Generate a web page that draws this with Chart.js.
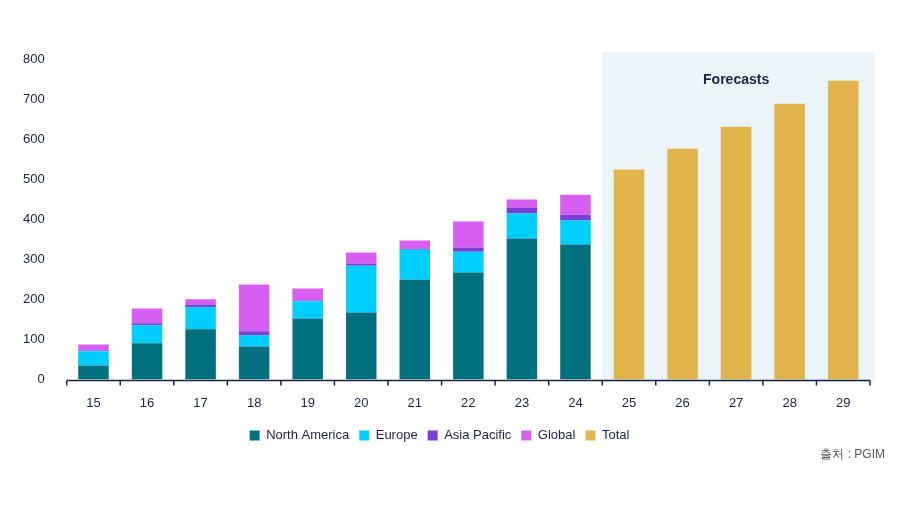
<!DOCTYPE html>
<html><head><meta charset="utf-8">
<script src="https://cdn.jsdelivr.net/npm/chart.js@4"></script>
<style>html,body{margin:0;padding:0;background:#fff}#w{width:906px;height:510px}</style>
</head><body><div id="w"><canvas id="c"></canvas></div>
<script>
const years=['15','16','17','18','19','20','21','22','23','24','25','26','27','28','29'];
const northAmerica=[35,90,125,82,152,167,249,267,352,337,null,null,null,null,null];
const europe=[35,45,55,28,43,117,75,52,62,60,null,null,null,null,null];
const asiaPacific=[2,5,7,10,2,5,3,10,15,14,null,null,null,null,null];
const globalV=[15,37,13,117,30,28,20,65,20,50,null,null,null,null,null];
const total=[null,null,null,null,null,null,null,null,null,null,524,576,631,688,746];
const yTicks=[0,100,200,300,400,500,600,700,800];
const F='Arial, "Liberation Sans", sans-serif';
const bg={id:'bg',beforeDatasetsDraw(ch){const x=ch.scales.x,y=ch.scales.y,c=ch.ctx;
 const l=(x.getPixelForValue(9)+x.getPixelForValue(10))/2, r=x.right+5;
 c.save();c.fillStyle='#eaf4f9';c.fillRect(l,52,r-l,y.bottom+3-52);
 c.fillStyle='#1b2340';c.font='bold 14px '+F;c.textAlign='center';c.fillText('Forecasts',x.getPixelForValue(12),80);
 c.restore();},
 afterDraw(ch){const x=ch.scales.x,y=ch.scales.y,c=ch.ctx;c.save();c.strokeStyle='#1b2340';c.lineWidth=1.5;
 c.beginPath();c.moveTo(x.left,y.bottom+1);c.lineTo(x.right,y.bottom+1);
 for(let i=0;i<=years.length;i++){const p=x.left+(x.right-x.left)*i/years.length;c.moveTo(p,y.bottom+1);c.lineTo(p,y.bottom+6);}
 c.stroke();c.fillStyle='#555';c.font='12px '+F;c.textAlign='right';c.fillText('출처 : PGIM',885,455);c.restore();}};
const ds=(l,d,col)=>({label:l,data:d,backgroundColor:col,stack:'s',barPercentage:0.57,categoryPercentage:1});
new Chart(document.getElementById('c'),{type:'bar',data:{labels:years,datasets:[
 ds('North America',northAmerica,'#00707f'),ds('Europe',europe,'#00ceff'),ds('Asia Pacific',asiaPacific,'#7a3fd8'),
 ds('Global',globalV,'#d65ff2'),ds('Total',total,'#e1b54b')]},
 options:{responsive:true,maintainAspectRatio:false,animation:false,
 layout:{padding:{left:9,right:36,top:59,bottom:58}},
 plugins:{tooltip:{enabled:false},legend:{position:'bottom',labels:{boxWidth:10,boxHeight:10,padding:10,color:'#1b2340',font:{family:F,size:13}}}},
 scales:{x:{stacked:true,grid:{display:false},border:{display:false},ticks:{color:'#1b2340',font:{family:F,size:13},padding:8}},
 y:{stacked:true,min:0,max:800,grid:{display:false},border:{display:false},afterBuildTicks(a){a.ticks=yTicks.map(v=>({value:v}));},
 ticks:{color:'#1b2340',font:{family:F,size:13},padding:14}}}},plugins:[bg]});
</script></body></html>
